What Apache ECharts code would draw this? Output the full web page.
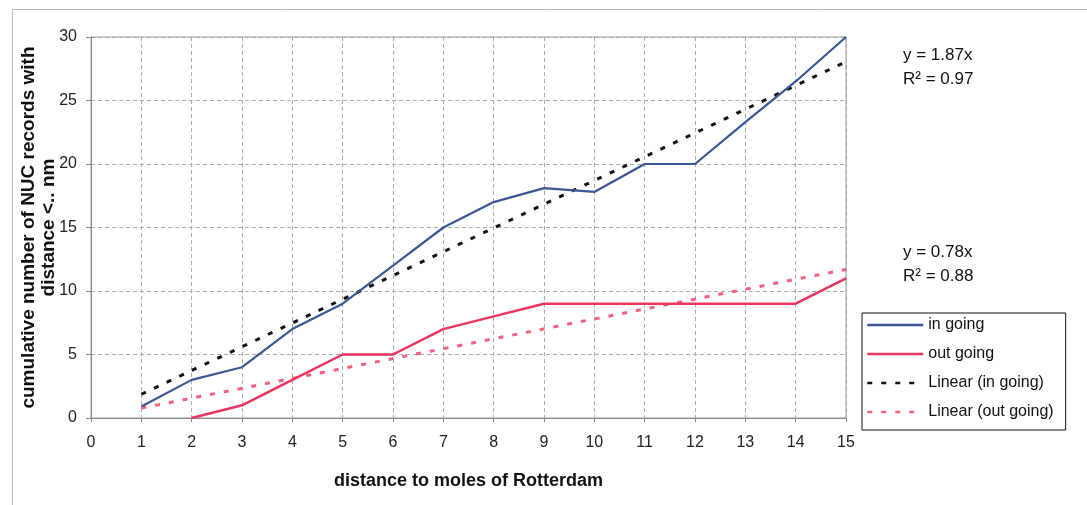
<!DOCTYPE html>
<html>
<head>
<meta charset="utf-8">
<script src="https://cdn.jsdelivr.net/npm/echarts@6/dist/echarts.min.js"></script>
<style>
html,body{margin:0;padding:0;background:#fff;}
#chart{width:1087px;height:505px;}
</style>
</head>
<body>
<div id="chart"></div>
<script>
// ---- data ----
const inX = [1, 2, 3, 4, 5, 6, 7, 8, 9, 10, 11, 12, 13, 14, 15];
const inGoing = [0.9, 3, 4, 7, 9, 12, 15, 17, 18.1, 17.8, 20, 20, 23.3, 26.5, 30];
const outX = [2, 3, 4, 5, 6, 7, 8, 9, 10, 11, 12, 13, 14, 15];
const outGoing = [0, 1, 3, 5, 5, 7, 8, 9, 9, 9, 9, 9, 9, 11];
const trendX = [1, 15];
const trendIn = [1.87, 28.05];
const trendOut = [0.78, 11.7];
const seriesNames = ['in going', 'out going', 'Linear (in going)', 'Linear (out going)'];
const yTicks = [0, 5, 10, 15, 20, 25, 30];
const xTicks = [0,1,2,3,4,5,6,7,8,9,10,11,12,13,14,15];
const annIn = ['y = 1.87x', 'R² = 0.97'];
const annOut = ['y = 0.78x', 'R² = 0.88'];

const pairs = (xs, ys) => xs.map((x, i) => [x, ys[i]]);
const FONT = '"Liberation Sans", Arial, sans-serif';

const chart = echarts.init(document.getElementById('chart'));
chart.setOption({
  backgroundColor: '#fff',
  animation: false,
  textStyle: { fontFamily: FONT },
  grid: {
    left: 91, right: 241, top: 37, bottom: 87,
    show: true, borderColor: '#9a9a9a', borderWidth: 1, backgroundColor: 'transparent'
  },
  xAxis: {
    type: 'value', min: xTicks[0], max: xTicks[xTicks.length - 1], interval: 1,
    name: 'distance to moles of Rotterdam', nameLocation: 'middle', nameGap: 54,
    nameTextStyle: { fontSize: 18, fontWeight: 'bold', color: '#111', fontFamily: FONT },
    axisLine: { lineStyle: { color: '#888' } },
    axisTick: { show: true, length: 4, lineStyle: { color: '#888' } },
    axisLabel: { fontSize: 16, color: '#222', margin: 17, fontFamily: FONT },
    splitLine: { show: true, lineStyle: { color: '#aaa', type: [4, 3], width: 1 } }
  },
  yAxis: {
    type: 'value', min: yTicks[0], max: yTicks[yTicks.length - 1], interval: 5,
    name: 'cumulative number of NUC records with\ndistance <.. nm',
    nameLocation: 'middle', nameGap: 32, nameRotate: 90, nameMoveOverlap: false,
    nameTextStyle: { fontSize: 19, fontWeight: 'bold', color: '#111', lineHeight: 20, fontFamily: FONT },
    axisLine: { show: true, lineStyle: { color: '#888' } },
    axisTick: { show: true, length: 5, lineStyle: { color: '#888' } },
    axisLabel: { fontSize: 16, color: '#222', margin: 14, fontFamily: FONT },
    splitLine: { show: true, lineStyle: { color: '#aaa', type: [4, 3], width: 1 } }
  },
  legend: {
    orient: 'vertical', left: 862, top: 313,
    data: seriesNames,
    borderColor: '#111', borderWidth: 1, borderRadius: 0,
    padding: [4, 12, 10, 4],
    itemWidth: 56, itemHeight: 14, itemGap: 13,
    itemStyle: { opacity: 0 },
    lineStyle: { width: 2.5 },
    textStyle: { fontSize: 16, color: '#111', fontFamily: FONT },
    backgroundColor: '#fff'
  },
  series: [
    { name: seriesNames[0], type: 'line', data: pairs(inX, inGoing), symbol: 'none',
      lineStyle: { color: '#3b5694', width: 2.2 }, itemStyle: { color: '#3b5694' }, z: 3 },
    { name: seriesNames[1], type: 'line', data: pairs(outX, outGoing), symbol: 'none',
      lineStyle: { color: '#e8365e', width: 2.5 }, itemStyle: { color: '#e8365e' }, z: 3 },
    { name: seriesNames[2], type: 'line', data: pairs(trendX, trendIn), symbol: 'none',
      lineStyle: { color: '#111', width: 3, type: [5, 9] }, itemStyle: { color: '#111' }, z: 2 },
    { name: seriesNames[3], type: 'line', data: pairs(trendX, trendOut), symbol: 'none',
      lineStyle: { color: '#f0607f', width: 3, type: [5, 9] }, itemStyle: { color: '#f0607f' }, z: 2 }
  ],
  graphic: [
    { type: 'rect', left: 10, top: 7, shape: { width: 1100, height: 520 }, silent: true,
      style: { fill: 'none', stroke: '#bbb', lineWidth: 1 }, z: -10 },
    { type: 'text', left: 903, top: 47, style: { text: annIn[0], font: '17px ' + FONT, fill: '#111' } },
    { type: 'text', left: 903, top: 71, style: { text: annIn[1], font: '17px ' + FONT, fill: '#111' } },
    { type: 'text', left: 903, top: 244, style: { text: annOut[0], font: '17px ' + FONT, fill: '#111' } },
    { type: 'text', left: 903, top: 268, style: { text: annOut[1], font: '17px ' + FONT, fill: '#111' } }
  ]
});
</script>
</body>
</html>
